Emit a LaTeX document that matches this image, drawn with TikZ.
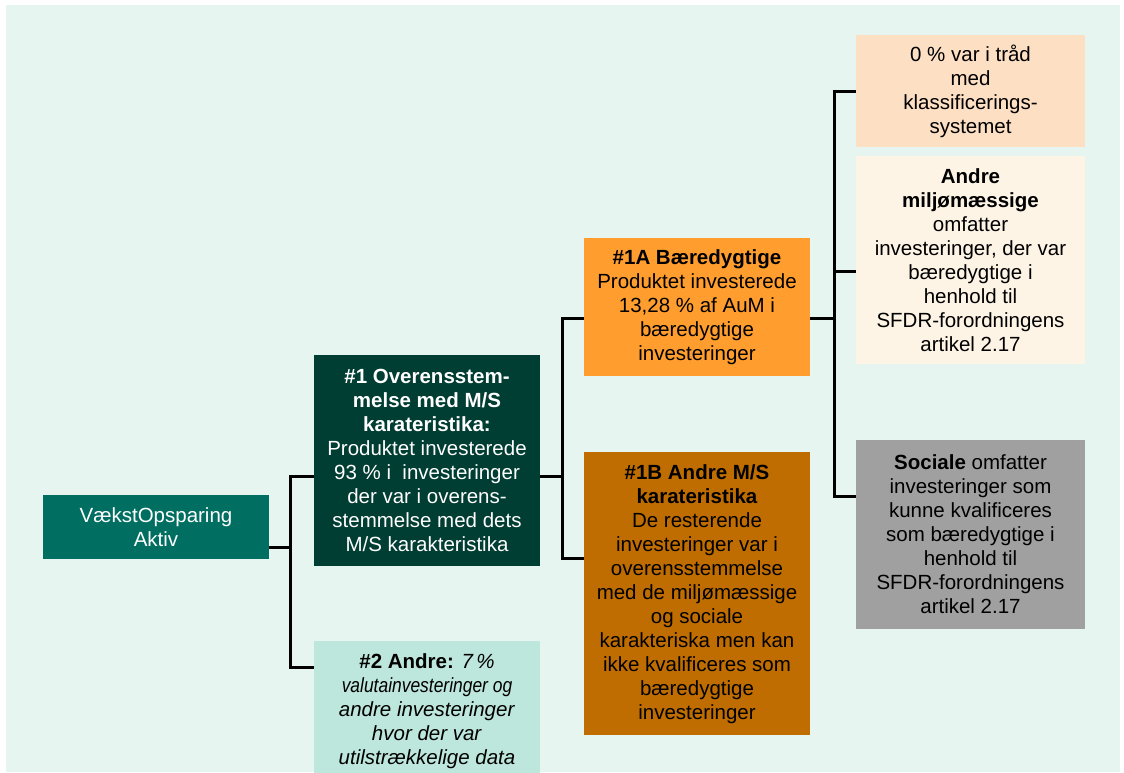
\documentclass[tikz,border=0pt]{standalone}
\usepackage{fontspec}
\setmainfont{Liberation Sans}
\usetikzlibrary{positioning}

\definecolor{bgmint}{HTML}{E6F5EF}
\definecolor{rootteal}{HTML}{006E60}
\definecolor{deepgreen}{HTML}{003D32}
\definecolor{palemint}{HTML}{BDE6DC}
\definecolor{orangeA}{HTML}{FF9E2F}
\definecolor{brownB}{HTML}{BF6D00}
\definecolor{peach}{HTML}{FDDFC3}
\definecolor{cream}{HTML}{FEF4E6}
\definecolor{midgray}{HTML}{A0A0A0}

\begin{document}
\begin{tikzpicture}[
    x=1pt, y=-1pt,
    every node/.style={font=\fontsize{20.5}{24}\selectfont, align=center, inner sep=0pt},
    box/.style={rectangle, minimum width=226pt},
    rbox/.style={rectangle, minimum width=229pt, text=black},
    link/.style={draw=black, line width=3pt}
]

\useasboundingbox (0,0) rectangle (1124,772);
\clip (0,0) rectangle (1124,772);

% background panel
\fill[bgmint] (6,5) rectangle (1120,772);

% fund
\node[box, fill=rootteal, text=white, minimum height=64pt] (root) at (156,527) {VækstOpsparing\\Aktiv};

% #1 and #2
\node[box, fill=deepgreen, text=white, minimum height=211pt] (ovst) at (427,460.5)
    {\textbf{\#1 Overensstem-}\\\textbf{melse med M/S}\\\textbf{karateristika:}\\Produktet investerede\\93 \% i\ \ investeringer\\der var i overens-\\stemmelse med dets\\M/S karakteristika};
\node[box, fill=palemint, minimum height=140pt, below=75pt of ovst] (andre)
    {\textbf{\#2 Andre:} \textit{7\,\%}\\\scalebox{0.85}[1]{\itshape valutainvesteringer og}\\\textit{andre investeringer}\\\textit{hvor der var}\\\textit{utilstrækkelige data}};

% #1A and #1B
\node[box, fill=orangeA, minimum height=138pt] (baer) at (697,307)
    {\textbf{\#1A Bæredygtige}\\Produktet investerede\\13,28 \% af AuM i\\bæredygtige\\investeringer};
\node[box, fill=brownB, minimum height=283pt, below=76pt of baer] (msk)
    {\textbf{\#1B Andre M/S}\\\textbf{karateristika}\\De resterende\\investeringer var i\\overensstemmelse\\med de miljømæssige\\og sociale\\karakteriska men kan\\ikke kvalificeres som\\bæredygtige\\investeringer};

% right column
\node[rbox, fill=peach, minimum height=112pt] (taks) at (970.5,91)
    {0 \% var i tråd\\med\\klassificerings-\\systemet};
\node[rbox, fill=cream, minimum height=208pt, below=9pt of taks] (miljo)
    {\textbf{Andre}\\\textbf{miljømæssige}\\omfatter\\investeringer, der var\\bæredygtige i\\henhold til\\SFDR-forordningens\\artikel 2.17};
\node[rbox, fill=midgray, minimum height=189pt, below=75pt of miljo] (soc)
    {\textbf{Sociale} omfatter\\investeringer som\\kunne kvalificeres\\som bæredygtige i\\henhold til\\SFDR-forordningens\\artikel 2.17};

% connectors
\draw[link] ([yshift=-20pt]root.east) -- ++(21,0) coordinate (j1) |- ([yshift=-15.5pt]ovst.west);
\draw[link] (j1) |- ([yshift=44pt]andre.west);

\draw[link] ([yshift=-15.5pt]ovst.east) -- ++(22,0) coordinate (j2) |- ([yshift=-11pt]baer.west);
\draw[link] (j2) |- ([yshift=35.5pt]msk.west);

\draw[link] ([yshift=-11pt]baer.east) -- ++(24,0) coordinate (j3) |- (taks.west);
\draw[link] (j3) |- ([yshift=-11pt]miljo.west);
\draw[link] (j3) |- ([yshift=37.5pt]soc.west);

\end{tikzpicture}
\end{document}
